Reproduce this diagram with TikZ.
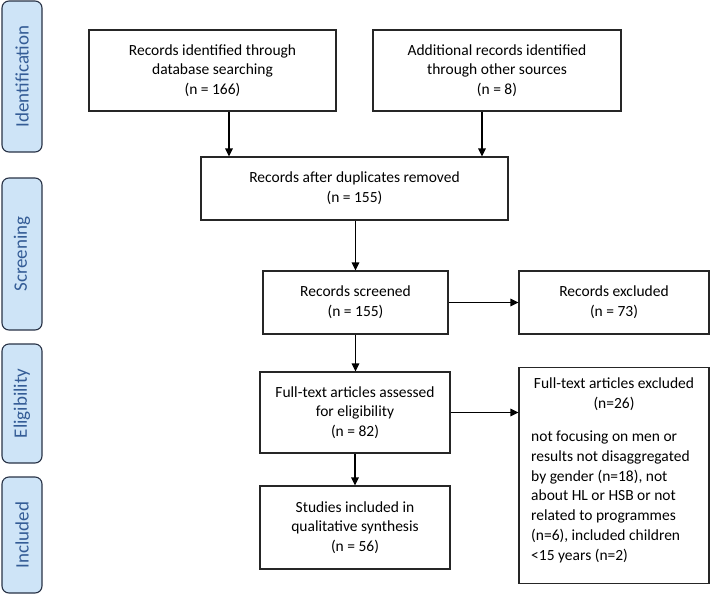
\documentclass[tikz,border=0pt]{standalone}
\usepackage{fontspec}
\setmainfont{Carlito}
\usetikzlibrary{arrows.meta,calc}
\definecolor{sidefill}{RGB}{206,228,247}
\definecolor{sidetext}{RGB}{52,92,150}
\definecolor{sideline}{RGB}{40,50,70}
\begin{document}
\begin{tikzpicture}[x=1pt,y=-1pt,
  box/.style={draw=black!85,line width=1.1pt,fill=white,align=center,inner sep=0pt,
    font=\fontsize{15.5}{19.7}\selectfont},
  plain/.style={align=center,inner sep=0pt,font=\fontsize{15.5}{19.7}\selectfont},
  side/.style={draw=sideline,line width=1.1pt,fill=sidefill,rounded corners=7pt,rotate=90,
    minimum height=40pt,inner sep=0pt,text=sidetext,font=\fontsize{19}{22}\selectfont},
  arr/.style={line width=1.1pt,-{Triangle[length=8pt,width=7.5pt]}}]
\useasboundingbox (0,0) rectangle (710,595);
% side labels
\node[side,minimum width=151pt] (sid) at (22,76.5) {Identification};
\node[side,minimum width=152pt] (sscr) at (22,254) {Screening};
\node[side,minimum width=119pt] (seli) at (22,403.5) {Eligibility};
\node[side,minimum width=116pt] (sinc) at (22,535) {Included};
% boxes
\node[box,minimum width=247pt,minimum height=81pt] (b1) at (212.5,70.5)
  {Records identified through\\database searching\\(n = 166)};
\node[box,minimum width=248pt,minimum height=81pt] (b2) at (497,70.5)
  {Additional records identified\\through other sources\\(n = 8)};
\node[box,minimum width=307pt,minimum height=63pt] (b3) at (354.5,188.5)
  {Records after duplicates removed\\(n = 155)};
\node[box,minimum width=185pt,minimum height=63pt] (b4) at (355.5,302.5)
  {Records screened\\(n = 155)};
\node[box,minimum width=190pt,minimum height=63pt] (b5) at (614,302.5)
  {Records excluded\\(n = 73)};
\node[box,minimum width=190pt,minimum height=81pt] (b6) at (355,412.5)
  {Full-text articles assessed\\for eligibility\\(n = 82)};
\node[box,minimum width=190pt,minimum height=216pt,anchor=north] (b7) at (614,367)
  {};
\node[plain,anchor=north] (b7h) at (614,378)
  {Full-text articles excluded\\(n=26)};
\node[plain,anchor=north west,align=left] (b7t) at (531,431)
  {not focusing on men or\\results not disaggregated\\by gender (n=18), not\\about HL or HSB or not\\related to programmes\\(n=6), included children\\<15 years (n=2)};
\node[box,minimum width=190pt,minimum height=83pt] (b8) at (355,527.5)
  {Studies included in\\qualitative synthesis\\(n = 56)};
% arrows
\draw[arr] ([xshift=16.5pt]b1.south) -- ([xshift=16.5pt]b1.south |- b3.north);
\draw[arr] ([xshift=-15pt]b2.south) -- ([xshift=-15pt]b2.south |- b3.north);
\draw[arr] (b3.south -| b4.north) -- (b4.north);
\draw[arr] (b4.east) -- (b4.east -| b5.west);
\draw[arr] (b4.south) -- (b4.south |- b6.north);
\draw[arr] (b6.east) -- (b6.east -| b7.west);
\draw[arr] (b6.south) -- (b8.north);
\end{tikzpicture}
\end{document}
